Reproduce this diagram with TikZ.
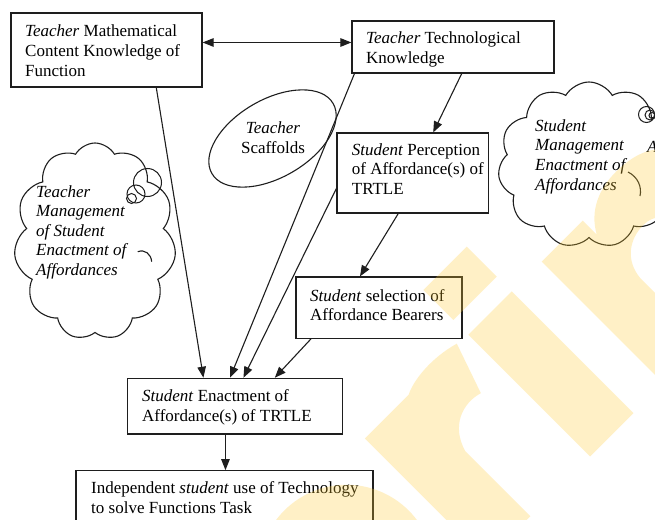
\documentclass[tikz,border=0pt]{standalone}
\usepackage{fontspec}
\setmainfont{Liberation Serif}
\usetikzlibrary{arrows.meta,shapes.geometric,shapes.symbols,calc}
\definecolor{ink}{HTML}{1E1E1E}
\definecolor{wmark}{HTML}{FFCC33}
\begin{document}
\begin{tikzpicture}[x=1pt,y=-1pt,
  box/.style={draw=ink, line width=1.15pt, rectangle, inner sep=0pt},
  txt/.style={inner sep=0pt, align=left, anchor=base west, font=\fontsize{17}{19.6}\selectfont, text=black},
  itxt/.style={txt, font=\fontsize{17}{19.6}\selectfont\itshape},
  tip/.style={-{Triangle[length=11pt,width=8.5pt]}},
  arr/.style={draw=ink, line width=1.1pt, tip},
  dblarr/.style={draw=ink, line width=1.1pt, {Triangle[length=11pt,width=8.5pt]}-{Triangle[length=11pt,width=8.5pt]}},
  thought/.style={draw=ink, line width=1.1pt, cloud, cloud puffs=11, cloud puff arc=120, inner sep=0pt},
  crease/.style={draw=ink, line width=1.1pt},
  bubble/.style={draw=ink, line width=1pt, circle, inner sep=0pt},
]
\useasboundingbox (0,0) rectangle (655,519);
\clip (0,0) rectangle (655,519);
\fill[white] (0,0) rectangle (655,519);

% boxes (text nodes are placed by the baseline of their last line)
\node[box, minimum width=191pt, minimum height=74pt] (A) at (106.5,50) {};
\node[txt] (At) at (25,76) {\textit{Teacher} Mathematical\\Content Knowledge of\\Function};

\node[box, minimum width=202pt, minimum height=52pt] (B) at (453,47) {};
\node[txt] (Bt) at (366,63.5) {\textit{Teacher} Technological\\Knowledge};

\node[box, minimum width=151.5pt, minimum height=80pt] (C) at (412.75,173) {};
\node[txt] (Ct) at (351.7,194.5) {\textit{Student} Perception\\of Affordance(s) of\\TRTLE};

\node[box, minimum width=166pt, minimum height=61.3pt] (D) at (379,307.65) {};
\node[txt] (Dt) at (310,320.7) {\textit{Student} selection of\\Affordance Bearers};

\node[box, minimum width=215.2pt, minimum height=55.7pt] (E) at (235,406.15) {};
\node[txt] (Et) at (142,421.5) {\textit{Student} Enactment of\\Affordance(s) of TRTLE};

\node[box, minimum width=297pt, minimum height=74.3pt] (F) at (224.5,507.85) {};
\node[txt] (Ft) at (91,513.3) {Independent \textit{student} use of Technology\\to solve Functions Task};

% scaffolding ellipse
\node[draw=ink, line width=1.1pt, ellipse, minimum width=140pt, minimum height=78pt, inner sep=0pt, rotate=30] (S) at (272.5,138.5) {};
\node[itxt, align=center, anchor=base] (St) at (273,153) {Teacher\\\upshape Scaffolds};

% thought clouds
\node[thought, minimum width=162pt, minimum height=197pt, aspect=0.82] (LC) at (95,241.5) {};
\node[itxt] (LCt) at (36,275.5) {Teacher\\Management\\of Student\\Enactment of\\Affordances};
\node[bubble, minimum size=28pt] (LB1) at (147.5,182.5) {};
\node[bubble, minimum size=18pt] (LB2) at (136,194) {};
\node[bubble, minimum size=10pt] (LB3) at (131.5,198.5) {};
\draw[crease] (137.7,251.7) .. controls (145,249) and (151,254) .. (151.7,261.7);

\node[thought, minimum width=182pt, minimum height=166pt, aspect=1.1] (RC) at (589,165) {};
\node[itxt] (RCt) at (535,190) {Student\\Management\\Enactment of\\Affordances};
\node[bubble, minimum size=16pt] (RB1) at (646.5,114.5) {};
\node[bubble, minimum size=10pt] (RB2) at (650,115) {};
\node[bubble, minimum size=6pt] (RB3) at (652,115.5) {};
\draw[crease] (628,172) .. controls (638,177) and (642,187) .. (640,196);
\node[itxt] (Ax) at (647,152) {A};

% connectors
\coordinate (ab) at ($(A.north east)!0.4!(A.south east)$);
\draw[dblarr] (ab) -- (B.west |- ab);
\draw[arr] ($(B.south west)!0.543!(B.south east)$) -- ($(C.north west)!0.634!(C.north east)$);
\draw[arr] ($(C.south west)!0.405!(C.south east)$) -- ($(D.north west)!0.386!(D.north east)$);
\draw[arr] ($(A.south west)!0.759!(A.south east)$) -- ($(E.north west)!0.354!(E.north east)$);
\draw[arr] ($(B.south west)!0.015!(B.south east)$) -- ($(E.north west)!0.477!(E.north east)$);
\draw[arr] ($(C.north west)!0.69!(C.south west)$) -- ($(E.north west)!0.539!(E.north east)$);
\draw[arr] ($(D.south west)!0.093!(D.south east)$) -- ($(E.north west)!0.684!(E.north east)$);
\coordinate (ef) at ($(E.south west)!0.456!(E.south east)$);
\draw[arr] (ef) -- (F.north -| ef);

% diagonal lettering laid over the page
\begin{scope}[x={(0.7071pt,0.7071pt)}, y={(0.7071pt,-0.7071pt)}, fill=wmark, fill opacity=0.28]
  \fill (-160,650) circle (88);
  \fill (-52,740) -- (-52,568) -- (10,568) .. controls (24,561) and (52,558) .. (80,566)
        -- (62,618) .. controls (42,612) and (18,620) .. (10,648) -- (10,740) -- cycle;
  \fill (94.3,504.4) -- (155.7,504.4) -- (155.7,546.8) -- (94.3,546.8) -- cycle;
  \fill (94.5,567.8) -- (155.8,567.8) -- (155.8,740) -- (94.5,740) -- cycle;
  \fill (198,740) -- (198,568) -- (256,568) -- (256,588)
        .. controls (268,566) and (290,557) .. (314,557)
        .. controls (354,557) and (378,577) .. (378,615)
        -- (378,740) -- (320,740) -- (320,640)
        .. controls (320,624) and (311,614) .. (296,614)
        .. controls (276,614) and (258,626) .. (256,650)
        -- (256,740) -- cycle;
\end{scope}
\end{tikzpicture}
\end{document}
